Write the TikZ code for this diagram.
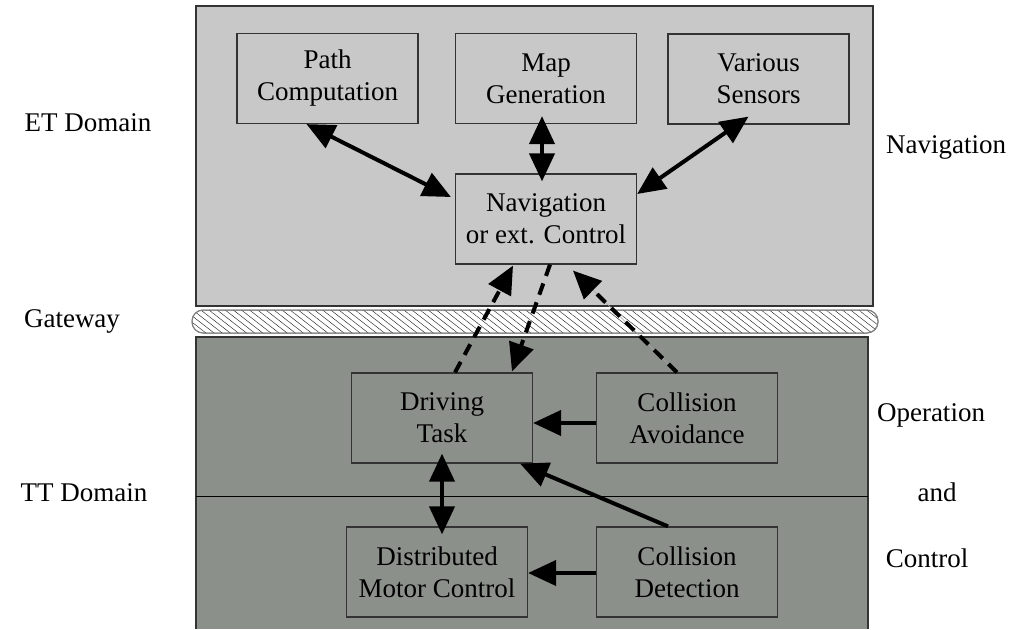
\documentclass[tikz,border=0pt]{standalone}
\usepackage{fontspec}
\setmainfont{Liberation Serif}
\usetikzlibrary{arrows.meta,calc,patterns.meta}

\definecolor{etfill}{HTML}{C8C8C8}
\definecolor{ttfill}{HTML}{8C908A}
\definecolor{edge}{HTML}{333333}

\tikzset{
  every node/.style={font=\fontsize{27}{32}\selectfont},
  box/.style={draw=edge, line width=1.2pt, minimum width=181pt, minimum height=90pt,
              inner sep=0pt, align=center},
  label/.style={align=center},
  link/.style={line width=4pt, black},
  both/.style={link, {Triangle[length=28pt,width=25pt]}-{Triangle[length=28pt,width=25pt]}},
  one/.style={link, -{Triangle[length=28pt,width=25pt]}},
  dashlink/.style={one, dash pattern=on 12pt off 8pt},
}

\begin{document}
\begin{tikzpicture}[x=1pt,y=-1pt]
\useasboundingbox (0,0) rectangle (1030,629);

% domain panels
\fill[etfill] (196,6) rectangle (873,306);
\draw[edge, line width=1.2pt] (196,6) rectangle (873,306);
\fill[ttfill] (196,337) rectangle (868,629);
\draw[edge, line width=1.2pt] (196,629) -- (196,337) -- (868,337) -- (868,629);
\draw[black, line width=1pt] (196,496) -- (868,496);

% gateway bus
\filldraw[fill=white, draw=gray, line width=1pt, rounded corners=11pt]
  (192,310) rectangle (878,333);
\fill[pattern={Lines[angle=-38,distance=5pt,line width=0.45pt]}, pattern color=black!85,
      rounded corners=11pt] (192,310) rectangle (878,333);
\draw[gray, line width=1pt, rounded corners=11pt] (192,310) rectangle (878,333);

% side labels
\node[label] (et)   at (88,123)  {ET Domain};
\node[label] (gw)   at (72,321)  {Gateway};
\node[label] (tt)   at (84,493)  {TT Domain};
\node[label] (navl) at (946,147) {Navigation};
\node[label] (opl)  at (931,415) {Operation};
\node[label] (andl) at (937,492) {and};
\node[label] (ctl)  at (927,558) {Control};

% components
\node[box] (pc)  at (327.5,78.5) {Path\\Computation};
\node[box] (mg)  at (546,78.5)   {Map\\Generation};
\node[box] (vs)  at (758.5,79)   {Various\\Sensors};
\node[box] (nav) at (546,219)    {Navigation\\or ext. Control};
\node[box] (dt)  at (442,418)    {Driving\\Task};
\node[box] (ca)  at (687,418)    {Collision\\Avoidance};
\node[box] (dmc) at (437,572)    {Distributed\\Motor Control};
\node[box] (cd)  at (687,572)    {Collision\\Detection};

% navigation links
\draw[both] ($(pc.south)+(-21,0)$) -- ($(nav.west)+(-4,-22)$);
\draw[both] ($(mg.south)+(-4,-8)$) -- ($(nav.north)+(-4,8)$);
\draw[both] ($(vs.south)+(-10,-8)$) -- ($(nav.east)+(0,-25)$);

% links through the gateway
\draw[dashlink] ($(dt.north)+(13,0)$) -- ($(nav.south)+(-33,1)$);
\draw[dashlink] ($(nav.south)+(4,0)$) -- ($(dt.north)+(70,-1)$);
\draw[gray!70, line width=0.5pt] ($(ca.north)+(-10,0)$) -- ($(nav.south)+(27,6)$);
\draw[dashlink] ($(ca.north)+(-10,0)$) -- ($(nav.south)+(27,6)$);

% operation and control links
\draw[one] ($(ca.west)+(0,5)$) -- ($(dt.east)+(0,5)$);
\draw[one] ($(cd.north)+(-19,0)$) -- ($(dt.south east)+(-13,0)$);
\draw[both] ($(dt.south)+(0,-10)$) -- ($(dt.south |- dmc.north)+(0,8)$);
\draw[one] ($(cd.west)+(0,1)$) -- ($(dmc.east)+(0,1)$);
\end{tikzpicture}
\end{document}
